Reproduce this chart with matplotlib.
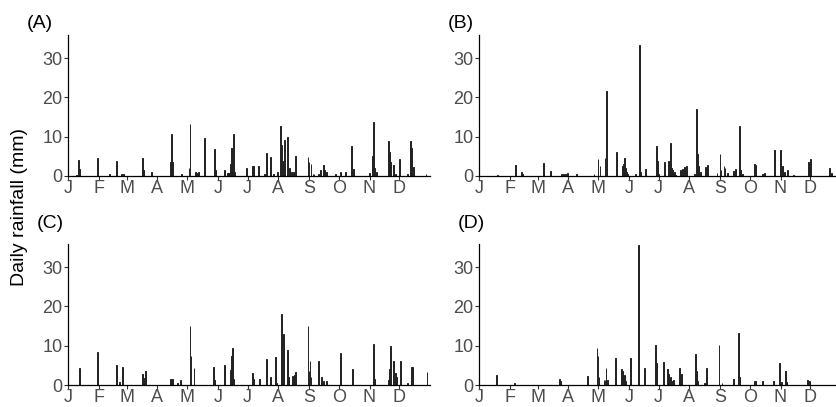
import numpy as np
import matplotlib.pyplot as plt

plt.rcParams['font.family'] = ['Liberation Sans', 'DejaVu Sans']

month_labels = ['J', 'F', 'M', 'A', 'M', 'J', 'J', 'A', 'S', 'O', 'N', 'D']
month_start = [1, 32, 60, 91, 121, 152, 182, 213, 244, 274, 305, 335]

# day of year, rainfall (mm)
a_days = [10, 12, 13, 31, 43, 50, 55, 57, 76, 77, 85, 104, 105, 106, 115, 123, 124, 130, 131, 133,
          139, 149, 150, 159, 162, 163, 164, 165, 166, 167, 168, 169, 181, 187, 188, 193, 199, 201,
          205, 208, 212, 215, 216, 218, 219, 222, 224, 226, 228, 230, 243, 244, 246, 248, 249, 254,
          256, 259, 260, 262, 271, 276, 281, 287, 289, 305, 308, 309, 310, 312, 324, 325, 326, 329,
          331, 335, 343, 346, 347, 349, 362]
a_rain = [0.3, 4.1, 1.8, 4.6, 0.5, 3.8, 0.6, 0.4, 4.5, 1.5, 1.0, 3.5, 10.7, 3.5, 0.6, 2.0, 13.3, 1.0, 0.8, 1.0,
          9.7, 6.8, 1.5, 1.5, 0.8, 0.8, 0.8, 3.0, 7.0, 4.5, 10.7, 1.0, 2.0, 2.6, 2.6, 2.6, 0.4, 5.9,
          4.8, 0.6, 1.0, 12.8, 7.8, 3.8, 9.2, 10.0, 2.0, 1.0, 1.0, 5.1, 4.9, 3.6, 3.0, 0.6, 0.6, 0.4,
          1.6, 2.8, 1.5, 1.0, 0.4, 1.0, 1.0, 7.6, 1.7, 0.8, 5.0, 13.7, 2.0, 1.0, 9.0, 6.0, 3.5, 2.8,
          0.5, 4.2, 0.4, 8.8, 7.0, 2.2, 0.6]

b_days = [20, 38, 44, 45, 66, 73, 84, 86, 88, 90, 99, 117, 121, 123, 128, 130, 140, 146, 147, 148,
          149, 150, 151, 159, 163, 164, 169, 180, 181, 182, 188, 192, 194, 195, 196, 198, 199, 204,
          206, 208, 210, 218, 220, 221, 222, 224, 229, 231, 241, 244, 245, 248, 249, 252, 258, 260,
          264, 265, 267, 279, 280, 287, 289, 299, 305, 307, 309, 312, 318, 333, 334, 335, 354, 356]
b_rain = [0.3, 2.8, 0.9, 0.6, 3.4, 1.2, 0.5, 0.5, 0.5, 0.8, 0.5, 0.4, 4.2, 2.5, 4.5, 21.6, 6.1, 2.5, 3.0, 4.5,
          2.0, 1.0, 0.5, 0.6, 33.3, 1.0, 1.8, 7.7, 3.8, 0.5, 3.5, 3.9, 8.5, 2.0, 1.5, 1.0, 0.3, 1.5,
          1.8, 2.2, 2.5, 0.5, 17.0, 5.5, 2.5, 1.0, 2.2, 2.7, 0.8, 5.5, 1.5, 2.5, 2.0, 0.8, 1.2, 1.8,
          12.6, 1.5, 0.5, 3.0, 2.8, 0.6, 0.8, 6.5, 6.7, 2.5, 1.0, 1.5, 0.3, 3.5, 3.0, 4.2, 2.0, 0.8]

c_days = [13, 31, 50, 53, 56, 76, 77, 79, 104, 105, 106, 111, 114, 124, 125, 128, 148, 149, 159, 165,
          166, 167, 168, 187, 188, 194, 201, 205, 210, 211, 216, 217, 218, 222, 223, 227, 229, 230,
          243, 244, 245, 246, 254, 257, 259, 262, 276, 288, 309, 310, 324, 325, 326, 329, 331, 332,
          336, 343, 347, 348, 363]
c_rain = [4.4, 8.4, 5.2, 0.8, 4.6, 2.8, 1.8, 3.5, 1.5, 1.5, 1.5, 0.5, 1.2, 15.0, 7.5, 4.3, 4.6, 1.2, 5.0, 3.8,
          7.5, 9.4, 1.5, 3.1, 1.5, 1.6, 6.5, 2.0, 7.2, 0.5, 18.0, 1.0, 13.0, 8.8, 2.0, 2.2, 2.5, 3.2,
          15.0, 3.5, 6.0, 2.0, 6.0, 2.0, 1.0, 1.0, 8.1, 4.0, 10.5, 1.5, 1.2, 4.0, 10.0, 6.2, 3.0, 2.0,
          6.0, 0.4, 4.7, 4.5, 3.3]

d_days = [19, 37, 82, 83, 110, 120, 121, 122, 127, 128, 129, 131, 139, 145, 146, 147, 148, 149, 154, 162,
          168, 179, 180, 187, 191, 192, 194, 196, 197, 203, 205, 219, 220, 221, 228, 230, 243, 246,
          258, 263, 264, 279, 280, 287, 298, 304, 306, 310, 311, 332, 334]
d_rain = [2.5, 0.4, 1.5, 1.0, 2.4, 9.5, 7.5, 2.0, 1.2, 1.2, 4.2, 1.2, 6.9, 4.0, 3.6, 1.5, 2.5, 1.0, 6.9, 35.5,
          4.3, 10.3, 5.5, 5.8, 4.0, 2.8, 2.0, 1.0, 1.2, 4.3, 2.8, 7.8, 3.6, 1.0, 0.5, 4.2, 10.3, 0.5,
          1.6, 13.2, 2.0, 1.0, 1.0, 1.0, 1.0, 5.6, 0.8, 3.5, 0.8, 1.2, 1.0]

panels = [('(A)', a_days, a_rain), ('(B)', b_days, b_rain),
          ('(C)', c_days, c_rain), ('(D)', d_days, d_rain)]

W, H = 837, 407
fig = plt.figure(figsize=(W / 100, H / 100), dpi=100)

# axes boxes in pixels: left, bottom-from-top
boxes = [(68, 176), (479, 176), (68, 385), (479, 385)]
label_pos = [(40, 24), (461, 24), (50, 224), (471, 224)]
ax_w, ax_h = 362, 141.5

for (name, days, rain), (x0, y0), (lx, ly) in zip(panels, boxes, label_pos):
    ax = fig.add_axes([x0 / W, (H - y0) / H, ax_w / W, ax_h / H])
    ax.bar(days, rain, width=0.9, color='#222222', edgecolor='#222222', linewidth=0.7)
    ax.set_xlim(1, 366)
    ax.set_ylim(0, 36)
    ax.set_yticks([0, 10, 20, 30])
    ax.set_xticks(month_start)
    ax.set_xticklabels(month_labels)
    for s in ['top', 'right']:
        ax.spines[s].set_visible(False)
    for s in ['left', 'bottom']:
        ax.spines[s].set_color('black')
        ax.spines[s].set_linewidth(0.9)
    ax.tick_params(axis='both', labelsize=13, labelcolor='#4D4D4D', color='#333333',
                   length=3, width=0.8, pad=1)
    ax.tick_params(axis='x', pad=0)
    ax.patch.set_alpha(0)
    fig.text(lx / W, 1 - ly / H, name, fontsize=14, ha='center', va='center', color='black')

fig.text(20 / W, 1 - 207 / H, 'Daily rainfall (mm)', rotation=90, fontsize=14,
         ha='center', va='center', color='black')

fig.savefig('out.png', dpi=100)
